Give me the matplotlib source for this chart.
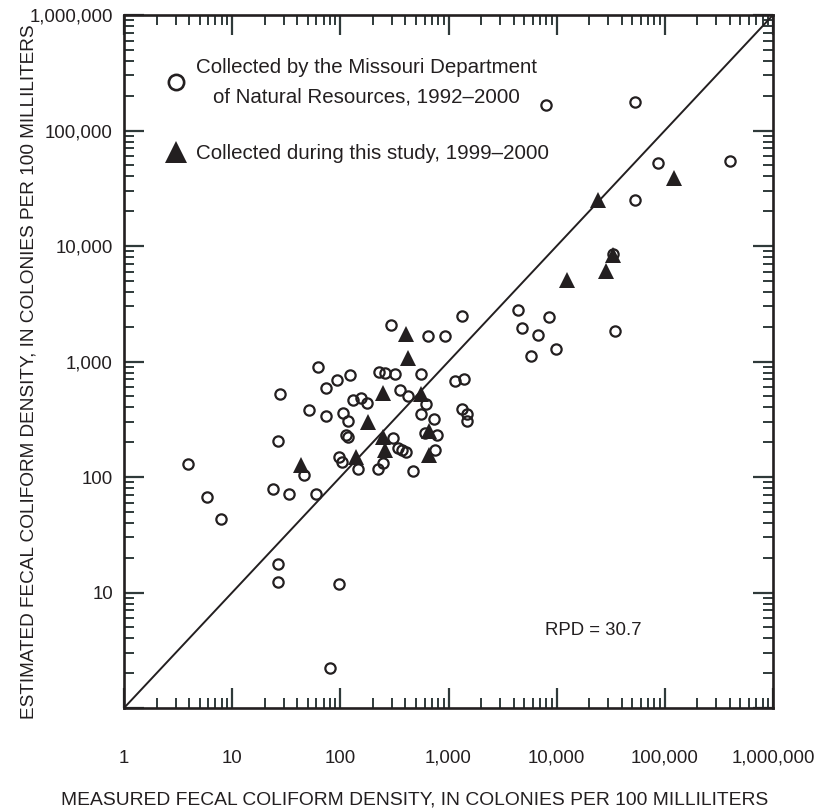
import matplotlib
matplotlib.use("Agg")
import matplotlib.pyplot as plt
from matplotlib.lines import Line2D
from matplotlib.ticker import FixedLocator, LogLocator, FuncFormatter, NullFormatter

plt.rcParams["font.family"] = ["Liberation Sans", "DejaVu Sans"]

# measured vs estimated densities (colonies per 100 mL)
dnr_measured = [7960, 53000, 87000, 400000, 53000, 1330, 4360, 8490, 4750, 6790,
                9860, 5750, 34800, 928, 650, 294, 1160, 1380, 1320, 1480,
                1490, 62.5, 93.7, 124, 73.7, 27.7, 51.6, 73.7, 130, 154,
                175, 106, 118, 113, 117, 26.7, 97.8, 103, 145, 224,
                250, 228, 259, 317, 358, 425, 551, 623, 551, 739,
                606, 787, 309, 341, 369, 405, 743, 473, 3.93, 5.89,
                7.88, 23.6, 33.5, 59.2, 46.1, 26.7, 26.7, 96.2, 80.2, 33300]
dnr_estimated = [166000, 175000, 52600, 54500, 25000, 2480, 2790, 2450, 1940, 1710,
                 1280, 1110, 1830, 1660, 1670, 2070, 678, 708, 388, 348,
                 308, 902, 692, 771, 593, 520, 379, 337, 464, 480,
                 437, 360, 308, 233, 222, 203, 150, 136, 117, 117,
                 131, 811, 790, 776, 570, 506, 776, 429, 349, 318,
                 239, 231, 218, 180, 171, 163, 170, 113, 130, 66.7,
                 43, 78.3, 71, 71, 104, 17.7, 12.4, 11.9, 2.21, 8610]

study_measured = [122000, 23900, 33300, 28600, 12500, 405, 422, 246, 551, 182,
                  250, 667, 259, 658, 140, 43.6]
study_estimated = [38600, 24800, 8360, 6080, 5050, 1730, 1080, 536, 528, 301,
                   223, 250, 171, 154, 148, 127]

decades = [1, 10, 100, 1000, 10000, 100000, 1000000]
rpd = 30.7

ink = "#231f20"
tick_ink = "#2f3a3a"
fs = 13.4
lab_fs = 13.7
leg_fs = 14.8

fig = plt.figure(figsize=(8.23, 8.10), dpi=100)
ax = fig.add_axes([124 / 823, 102 / 810, 649 / 823, 693 / 810])
ax.set_xscale("log")
ax.set_yscale("log")
ax.set_xlim(1, 1e6)
ax.set_ylim(1, 1e6)

ax.plot([decades[0], decades[-1]], [decades[0], decades[-1]], color=ink, lw=1.4, zorder=2)
ax.plot(dnr_measured, dnr_estimated, "o", ms=7.4, mfc="none", mec=ink, mew=1.6, zorder=3)
ax.plot(study_measured, study_estimated, "^", ms=11.5, color=ink, mew=0, zorder=4)

fmt = FuncFormatter(lambda v, _: f"{v:,.0f}")
ax.xaxis.set_major_locator(FixedLocator(decades))
ax.xaxis.set_major_formatter(fmt)
ax.yaxis.set_major_locator(FixedLocator(decades))
ax.yaxis.set_major_formatter(FuncFormatter(lambda v, _: "" if v < 2 else f"{v:,.0f}"))
for axis in (ax.xaxis, ax.yaxis):
    axis.set_minor_locator(LogLocator(base=10, subs=range(2, 10)))
    axis.set_minor_formatter(NullFormatter())

ax.tick_params(which="both", direction="in", top=True, right=True, color=tick_ink,
               labelcolor=ink, labelsize=fs)
ax.tick_params(which="major", length=14.5, width=1.6)
ax.tick_params(which="minor", length=7.5, width=1.4)
ax.tick_params(axis="x", which="major", pad=30)
ax.tick_params(axis="y", which="major", pad=8)
for s in ax.spines.values():
    s.set_linewidth(1.9)
    s.set_color(ink)

ax.set_xlabel("MEASURED FECAL COLIFORM DENSITY, IN COLONIES PER 100 MILLILITERS",
              fontsize=13.9, color=ink)
ax.xaxis.set_label_coords(0.448, -0.12)
ax.set_ylabel("ESTIMATED FECAL COLIFORM DENSITY, IN COLONIES PER 100 MILLILITERS",
              fontsize=lab_fs, color=ink)
ax.yaxis.set_label_coords(-0.133, 0.485)

handles = [
    Line2D([], [], ls="none", marker="o", ms=11, mfc="none", mec=ink, mew=1.9),
    Line2D([], [], ls="none", marker="^", ms=16.5, color=ink, mew=0),
]
labels = ["Collected by the Missouri Department\nof Natural Resources, 1992\u20132000",
          "Collected during this study, 1999\u20132000"]
leg = ax.legend(handles, labels, loc="upper left", bbox_to_anchor=(0.052, 0.95),
                frameon=False, fontsize=leg_fs, handlelength=1.0, handletextpad=0.45,
                labelspacing=1.85, borderaxespad=0)
for t in leg.get_texts():
    t.set_color(ink)
    t.set_linespacing(1.68)
    t.set_multialignment("center")

ax.text(0.648, 0.112, f"RPD = {rpd}", transform=ax.transAxes, fontsize=fs,
        color=ink, ha="left", va="center")

fig.savefig("out.png", dpi=100)
